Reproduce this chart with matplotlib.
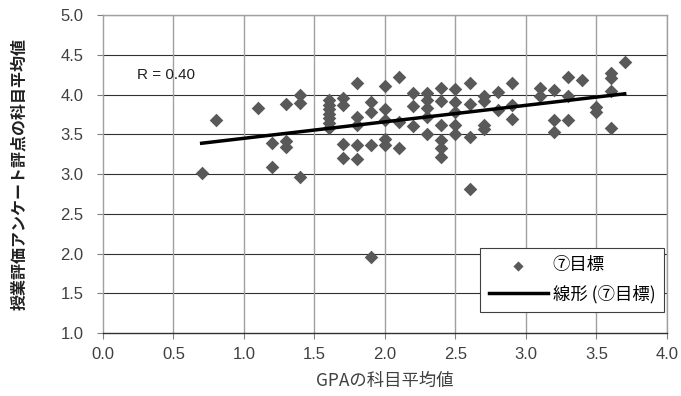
import numpy as np
import matplotlib
matplotlib.use('Agg')
import matplotlib.pyplot as plt

plt.rcParams['font.family'] = ['Noto Sans CJK JP', 'DejaVu Sans']

# GPA subject mean (x) and questionnaire score mean (y)
gpa = [0.7, 0.8, 1.1, 1.2, 1.2, 1.3, 1.3, 1.3, 1.4, 1.4, 1.4,
       1.6, 1.6, 1.6, 1.6, 1.6, 1.6, 1.6,
       1.7, 1.7, 1.7, 1.7, 1.8, 1.8, 1.8, 1.8, 1.8,
       1.9, 1.9, 1.9, 1.9, 2.0, 2.0, 2.0, 2.0, 2.0,
       2.1, 2.1, 2.1, 2.2, 2.2, 2.2,
       2.3, 2.3, 2.3, 2.3, 2.3, 2.4, 2.4, 2.4, 2.4, 2.4, 2.4,
       2.5, 2.5, 2.5, 2.5, 2.5, 2.6, 2.6, 2.6, 2.6,
       2.7, 2.7, 2.7, 2.7, 2.8, 2.8, 2.9, 2.9, 2.9,
       3.1, 3.1, 3.2, 3.2, 3.2, 3.3, 3.3, 3.3, 3.4, 3.5, 3.5,
       3.6, 3.6, 3.6, 3.6, 3.7]
score = [3.01, 3.68, 3.83, 3.39, 3.09, 3.88, 3.42, 3.34, 4.00, 3.89, 2.96,
         3.93, 3.87, 3.82, 3.76, 3.70, 3.64, 3.58,
         3.96, 3.87, 3.38, 3.20, 4.14, 3.72, 3.62, 3.36, 3.19,
         3.90, 3.78, 3.36, 1.96, 4.11, 3.82, 3.68, 3.44, 3.37,
         4.22, 3.66, 3.33, 4.02, 3.86, 3.61,
         4.02, 3.93, 3.83, 3.72, 3.50, 4.08, 3.92, 3.62, 3.43, 3.33, 3.21,
         4.07, 3.91, 3.78, 3.62, 3.50, 4.14, 3.88, 3.47, 2.81,
         3.98, 3.92, 3.62, 3.57, 4.03, 3.80, 4.15, 3.87, 3.69,
         4.08, 3.98, 4.06, 3.68, 3.53, 4.22, 3.98, 3.68, 4.18, 3.84, 3.78,
         4.27, 4.21, 4.05, 3.58, 4.41]

x_ticks = [0.0, 0.5, 1.0, 1.5, 2.0, 2.5, 3.0, 3.5, 4.0]
y_ticks = [1.0, 1.5, 2.0, 2.5, 3.0, 3.5, 4.0, 4.5, 5.0]

fig = plt.figure(figsize=(6.81, 3.96), dpi=100)
ax = fig.add_axes([0.1512, 0.159, 0.8282, 0.803])

ax.scatter(gpa, score, marker='D', s=48, color='#595959', linewidths=0,
           label='⑦目標', zorder=3)

# linear trend line
slope, intercept = np.polyfit(gpa, score, 1)
xs = np.array([min(gpa), max(gpa)])
ax.plot(xs, slope * xs + intercept, color='black', lw=2.5,
        label='線形 (⑦目標)', zorder=4)

ax.set_xlim(0, 4)
ax.set_ylim(1, 5)
ax.set_xticks(x_ticks)
ax.set_yticks(y_ticks)
ax.set_xticklabels([f'{v:.1f}' for v in x_ticks])
ax.set_yticklabels([f'{v:.1f}' for v in y_ticks])
ax.tick_params(colors='#808080', labelcolor='#404040', labelsize=12,
               length=4, width=0.8)
ax.tick_params(axis='x', pad=6)
ax.tick_params(axis='y', pad=10)
for lab in ax.get_xticklabels() + ax.get_yticklabels():
    lab.set_family(['Liberation Sans', 'DejaVu Sans'])

for y in y_ticks[1:]:
    ax.axhline(y, color='#303030', lw=0.8, zorder=1)
for x in x_ticks[1:]:
    ax.axvline(x, color='#a0a0a0', lw=1.0, zorder=1)

for s in ax.spines.values():
    s.set_color('#a0a0a0')
    s.set_linewidth(1.0)
ax.spines['bottom'].set_color('#303030')

r = np.corrcoef(gpa, score)[0, 1]
ax.text(0.24, 4.25, f'R = {r:.2f}', fontsize=11, color='#202020',
        va='center', ha='left', family=['Liberation Sans', 'DejaVu Sans'])

ax.set_xlabel('GPAの科目平均値', fontsize=12.5, color='#404040', labelpad=7)
ax.set_ylabel('授業評価アンケート評点の科目平均値', fontsize=11.5,
              fontweight='bold', color='#202020', labelpad=24)

leg = ax.legend(loc='lower right', bbox_to_anchor=(0.995, 0.066),
                borderaxespad=0, fancybox=False, framealpha=1,
                edgecolor='#404040', fontsize=12.5, handlelength=3.4,
                markerscale=0.75, borderpad=0.5, labelspacing=0.6,
                handletextpad=0.3)
leg.get_frame().set_linewidth(0.8)

fig.savefig('out.png', dpi=100)
